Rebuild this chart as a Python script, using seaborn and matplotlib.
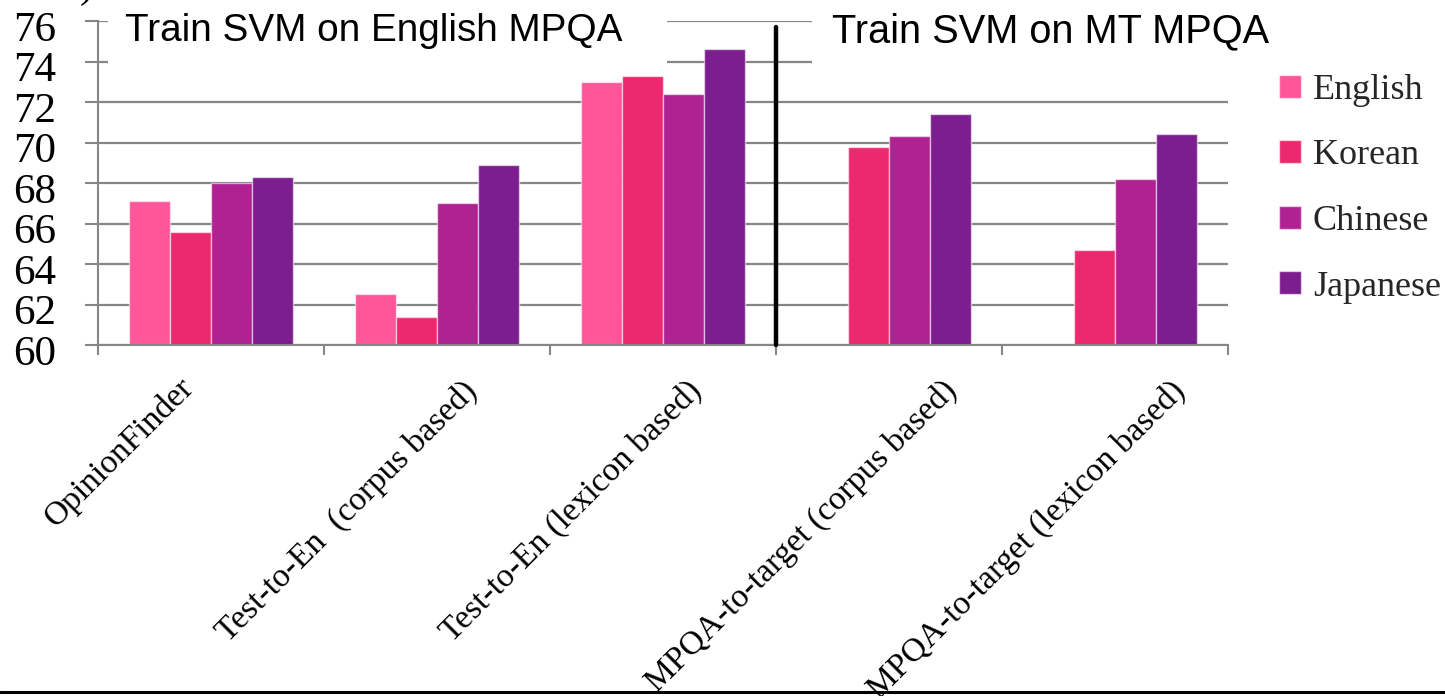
import numpy as np
import pandas as pd
import matplotlib
matplotlib.use("Agg")
import matplotlib.pyplot as plt
from matplotlib.patches import Rectangle
from matplotlib.lines import Line2D
from matplotlib.transforms import ScaledTranslation
import seaborn as sns

# ---- data -----------------------------------------------------------------
methods = [
    "OpinionFinder",
    "Test-to-En  (corpus based)",
    "Test-to-En (lexicon based)",
    "MPQA-to-target (corpus based)",
    "MPQA-to-target (lexicon based)",
]
languages = ["English", "Korean", "Chinese", "Japanese"]
english = [67.1, 62.5, 73.0, np.nan, np.nan]
korean = [65.6, 61.4, 73.3, 69.8, 64.7]
chinese = [68.0, 67.0, 72.4, 70.3, 68.2]
japanese = [68.3, 68.9, 74.6, 71.4, 70.4]
yticks = [60, 62, 64, 66, 68, 70, 72, 74, 76]
titles = ["Train SVM on English MPQA", "Train SVM on MT MPQA"]

colors = ["#FF5599", "#EC296E", "#AE2391", "#7D1E8F"]

df = pd.DataFrame({
    "method": np.repeat(methods, len(languages)),
    "language": languages * len(methods),
    "accuracy": np.column_stack([english, korean, chinese, japanese]).ravel(),
})

# ---- figure ---------------------------------------------------------------
sns.set_theme(style="white")
plt.rcParams["font.family"] = ["Liberation Serif", "DejaVu Serif"]

W, H = 1445, 696
fig = plt.figure(figsize=(W / 100, H / 100), dpi=100)
ax = fig.add_axes([98 / W, 1 - 345 / H, (1228 - 98) / W, (345 - 21) / H])

grid_gray = "#868686"

sns.barplot(
    data=df, x="method", y="accuracy", hue="language",
    order=methods, hue_order=languages, palette=colors,
    width=0.726, errorbar=None, ax=ax,
    edgecolor=(1, 1, 1, 0.55), linewidth=1.0, saturation=1, zorder=2,
)

ax.set_ylim(60, 76)
ax.set_xlim(-0.5, len(methods) - 0.5)
ax.set_yticks(yticks)
ax.set_yticklabels([str(v) for v in yticks], fontsize=31)
ax.set_xticks(np.arange(len(methods) + 1) - 0.5)
ax.set_xticklabels([])
ax.set_xlabel("")
ax.set_ylabel("")

ax.yaxis.grid(True, color=grid_gray, linewidth=1.6, zorder=0)
ax.set_axisbelow(True)
ax.tick_params(axis="y", direction="out", length=9.5, width=1.5, color=grid_gray,
               pad=21, left=True, labelcolor="black")
ax.tick_params(axis="x", direction="out", length=7.5, width=1.5, color=grid_gray,
               bottom=True)
for side in ["top", "right"]:
    ax.spines[side].set_visible(False)
for side in ["left", "bottom"]:
    ax.spines[side].set_color(grid_gray)
    ax.spines[side].set_linewidth(1.5)

# value labels sit slightly below their gridlines
shift_down = ScaledTranslation(0, -5 / 100, fig.dpi_scale_trans)
for lab in ax.get_yticklabels():
    lab.set_transform(lab.get_transform() + shift_down)

# rotated category labels, anchored at their right end
label_offsets = [(-22, -38), (35, -41), (34, -41), (63, -41), (66, -41)]
for i, (name, (dx, dy)) in enumerate(zip(methods, label_offsets)):
    ax.annotate(name, xy=(i, 0), xycoords=("data", "axes fraction"),
                xytext=(dx, dy), textcoords="offset pixels",
                rotation=45, rotation_mode="anchor", ha="right", va="center",
                fontsize=24.1, color="black", annotation_clip=False)

# separator between the two training setups
ax.plot([2.5, 2.5], [60, 75.7], color="black", linewidth=3.2, clip_on=False, zorder=4)

# section headings on white boxes
for (x0, x1), tx, size, title in zip([(108, 667), (812, 1300)], [125, 832],
                                     [27.9, 28.6], titles):
    fig.patches.append(Rectangle((x0 / W, 1 - 72 / H), (x1 - x0) / W, 64 / H,
                                 transform=fig.transFigure, facecolor="white",
                                 edgecolor="none", zorder=2))
    fig.text(tx / W, 1 - 31 / H, title, fontsize=size, va="center", ha="left",
             family=["Liberation Sans", "DejaVu Sans"], color="black", zorder=3)

# legend
handles, labels = ax.get_legend_handles_labels()
ax.legend(handles, labels, loc="upper left", bbox_to_anchor=(1279 / W, 1 - 74 / H),
          bbox_transform=fig.transFigure, frameon=False, fontsize=26,
          handlelength=0.62, handleheight=0.62, handletextpad=0.32,
          labelspacing=0.9, borderpad=0, borderaxespad=0)

# fragment of text cut at the top edge and rule along the bottom
fig.text(80 / W, 1 + 3 / H, ")", fontsize=30, ha="left", va="baseline", color="black")
fig.add_artist(Line2D([0, 1], [1 - 692 / H, 1 - 692 / H], transform=fig.transFigure,
                      color="black", linewidth=2.2))

fig.savefig("out.png", dpi=100)
